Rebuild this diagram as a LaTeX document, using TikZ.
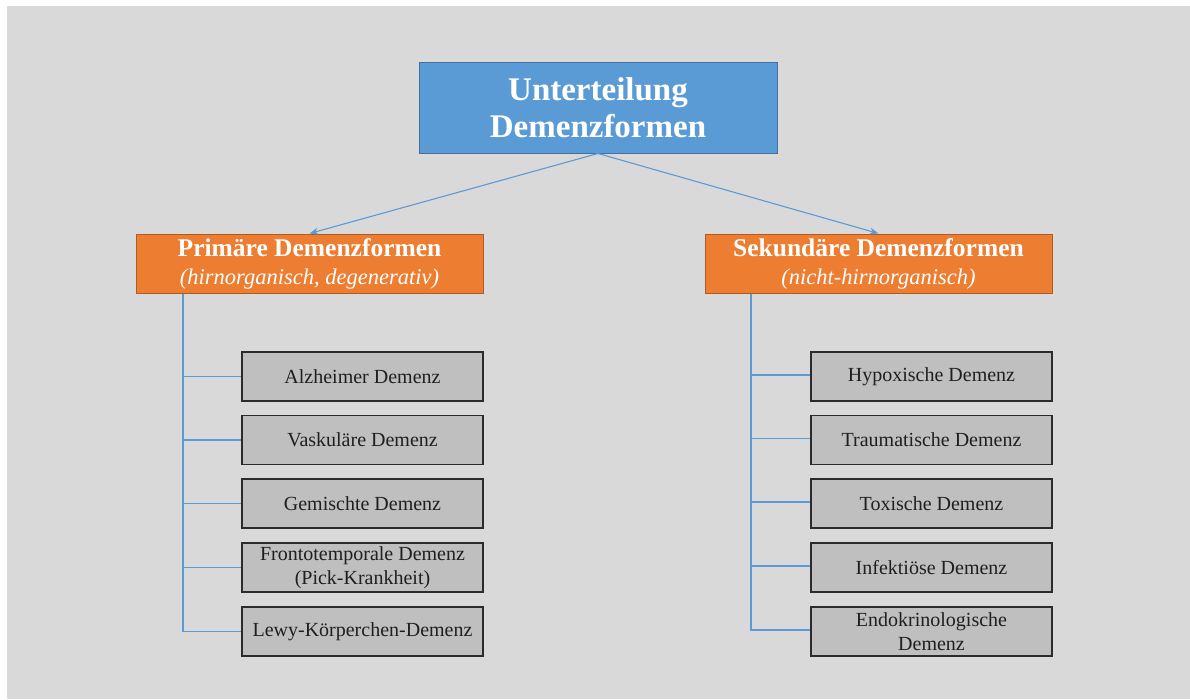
\documentclass[tikz,border=0pt]{standalone}
\usepackage{fontspec}
\setmainfont{Liberation Serif}
\usetikzlibrary{arrows.meta}
\definecolor{bgGray}{HTML}{D9D9D9}
\definecolor{topBlue}{HTML}{5B9BD5}
\definecolor{topBlueEdge}{HTML}{41719C}
\definecolor{orangeFill}{HTML}{ED7D31}
\definecolor{orangeEdge}{HTML}{AE5A21}
\definecolor{boxGray}{HTML}{BFBFBF}
\definecolor{boxEdge}{HTML}{2B2B2B}
\definecolor{lineBlue}{HTML}{5B9BD5}
\tikzset{
  topbox/.style={draw=topBlueEdge, fill=topBlue, line width=1pt, minimum width=358pt, minimum height=91pt, inner sep=0pt, align=center, text=white, font=\fontsize{33}{37}\selectfont\bfseries},
  catbox/.style={draw=orangeEdge, fill=orangeFill, line width=1pt, minimum width=347pt, minimum height=59pt, inner sep=0pt, align=center, text=white, font=\fontsize{22.5}{28}\selectfont},
  itembox/.style={draw=boxEdge, fill=boxGray, line width=1.2pt, minimum width=241pt, minimum height=49pt, inner sep=0pt, align=center, text=black!88, font=\fontsize{20}{23.5}\selectfont},
  conn/.style={draw=lineBlue, line width=1.1pt},
  arr/.style={conn, -{Stealth[length=9pt,width=7pt]}}
}
\newcommand{\cattext}[2]{{\fontsize{25.5}{28}\selectfont\bfseries #1}\\{\itshape #2}}
\begin{document}
\begin{tikzpicture}[x=1pt,y=-1pt]
\useasboundingbox (0,0) rectangle (1190,699);
\fill[white] (0,0) rectangle (1190,699);
\fill[bgGray] (7,6) rectangle (1190,699);

\node[topbox] (top) at (598,107.5) {Unterteilung\\Demenzformen};

\node[catbox] (prim) at (309.5,263.5) {\cattext{Primäre Demenzformen}{(hirnorganisch, degenerativ)}};
\node[catbox] (sek) at (878.5,263.5) {\cattext{Sekundäre Demenzformen}{(nicht-hirnorganisch)}};

\draw[arr] (top.south) -- (prim.north);
\draw[arr] (top.south) -- (sek.north);

% left items
\node[itembox] (a1) at (362.5,376.5) {Alzheimer Demenz};
\node[itembox] (a2) at (362.5,440) {Vaskuläre Demenz};
\node[itembox] (a3) at (362.5,503.5) {Gemischte Demenz};
\node[itembox] (a4) at (362.5,567.5) {Frontotemporale Demenz\\(Pick-Krankheit)};
\node[itembox] (a5) at (362.5,631.5) {Lewy-Körperchen-Demenz};

% right items
\node[itembox] (b1) at (931.5,376.5) {Hypoxische Demenz};
\node[itembox] (b2) at (931.5,440) {Traumatische Demenz};
\node[itembox] (b3) at (931.5,503.5) {Toxische Demenz};
\node[itembox] (b4) at (931.5,567.5) {Infektiöse Demenz};
\node[itembox] (b5) at (931.5,631.5) {Endokrinologische\\Demenz};

\coordinate (lv) at (183,293.5);
\coordinate (rv) at (751,293.5);

\draw[conn] (lv) |- (a5.west);
\foreach \n in {a1,a2,a3,a4} \draw[conn] (\n.west -| lv) -- (\n.west);
\draw[conn] (rv) |- ([yshift=1.5pt]b5.west);
\foreach \n in {b1,b2,b3,b4} \draw[conn] ([yshift=1.5pt]\n.west -| rv) -- ([yshift=1.5pt]\n.west);
\end{tikzpicture}
\end{document}
